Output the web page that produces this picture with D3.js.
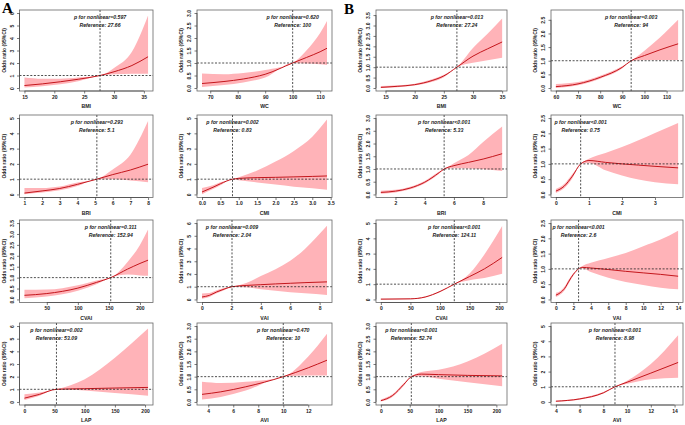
<!DOCTYPE html>
<html><head><meta charset="utf-8">
<script src="https://cdn.jsdelivr.net/npm/d3@7"></script>
<style>body{margin:0;background:#fff}svg{display:block}</style>
</head><body><svg id="c" width="685" height="425"></svg>
<script>
// panel order: A-BMI, A-WC, A-BRI, A-CMI, A-CVAI, A-VAI, A-LAP, A-AVI, then the same for B
const groupLabels = ["A", "B"];
const indexNames = ["BMI","WC","BRI","CMI","CVAI","VAI","LAP","AVI","BMI","WC","BRI","CMI","CVAI","VAI","LAP","AVI"];
const pTexts = ["=0.597","=0.620","=0.293","=0.002","=0.311","=0.009","=0.002","=0.470",
                "=0.013","=0.003","<0.001","<0.001","<0.001","<0.001","<0.001","<0.001"];
const refTexts = ["27.66","100","5.1","0.83","152.94","2.04","53.09","10",
                  "27.24","94","5.33","0.75","124.11","2.6","52.74","8.98"];
const refValues = [27.66,100,5.1,0.83,152.94,2.04,53.09,10, 27.24,94,5.33,0.75,124.11,2.6,52.74,8.98];
const yMax = [6,3,5,5,3.5,6,6,3, 3.6,2.75,3,2.5,5,2.5,3,5];
const xTicks = [[15,20,25,30,35],[70,80,90,100,110],[1,2,3,4,5,6,7,8],[0,0.5,1,1.5,2,2.5,3,3.5],
                [50,100,150,200],[0,2,4,6,8],[0,50,100,150,200],[4,6,8,10,12],
                [15,20,25,30,35],[60,70,80,90,100,110],[2,4,6,8],[0,1,2,3],
                [0,50,100,150,200],[0,2,4,6,8,10,12,14],[0,50,100,150,200],[4,6,8,10,12,14]];
const yTicks = [[0,1,2,3,4,5,6],[0,0.5,1,1.5,2,2.5,3],[0,1,2,3,4,5],[0,1,2,3,4,5],
                [0,0.5,1,1.5,2,2.5,3,3.5],[0,1,2,3,4,5,6],[0,1,2,3,4,5,6],[0,0.5,1,1.5,2,2.5,3],
                [0,0.5,1,1.5,2,2.5,3,3.5],[0,0.5,1,1.5,2,2.5],[0,0.5,1,1.5,2,2.5,3],[0,0.5,1,1.5,2,2.5],
                [0,1,2,3,4,5],[0,0.5,1,1.5,2,2.5],[0,0.5,1,1.5,2,2.5,3],[0,1,2,3,4,5]];
const yTickDecimals = [0,1,0,0,1,0,0,1, 1,1,1,1,0,1,1,0];
const xTickDecimals = [0,0,0,1,0,0,0,0, 0,0,0,0,0,0,0,0];

const curveX = [
 [15,18,21,24,27.66,30,33,35.7],
 [67,75,82,90,100,105,110,112.5],
 [1,2,3,4,5.1,6,7,8],
 [0,0.3,0.5,0.83,1.0,1.5,2.0,2.5,3.0,3.4],
 [14,50,100,130,152.94,180,200,213],
 [0,0.5,1,1.5,2.04,3,4,5,6,7,8.5],
 [0,25,53.09,100,150,205],
 [3.5,5,7,10,12,13.5],
 [14.2,17,20,23,25,27.24,30,32.5,35],
 [60,70,80,90,94,100,107,115.2],
 [1,2,3,4,5,5.33,6,7,8,9.3],
 [0,0.25,0.5,0.75,1.0,1.5,2.0,2.5,3.0,3.7],
 [0,50,75,100,124.11,150,175,205],
 [0,0.5,1,1.5,2,2.6,3,4,6,8,10,12,14],
 [0,20,40,52.74,70,100,150,210],
 [4,6,8,8.98,10,12,14.3]
];
const curveOR = [
 [0.2,0.33,0.5,0.7,1,1.3,1.8,2.5],
 [0.18,0.26,0.36,0.55,1,1.22,1.45,1.59],
 [0.09,0.23,0.39,0.66,1,1.3,1.6,1.98],
 [0.16,0.47,0.7,1,1.05,1.1,1.12,1.15,1.18,1.21],
 [0.19,0.27,0.52,0.78,1,1.39,1.65,1.8],
 [0.19,0.32,0.59,0.81,1,1.1,1.16,1.22,1.27,1.32,1.38],
 [0.3,0.6,1,1.05,1.1,1.15],
 [0.3,0.4,0.6,1,1.35,1.65],
 [0.03,0.08,0.16,0.36,0.58,1,1.53,1.88,2.21],
 [0.05,0.15,0.39,0.76,1,1.19,1.4,1.62],
 [0.08,0.13,0.25,0.48,0.86,1,1.13,1.26,1.39,1.6],
 [0.11,0.27,0.6,1,1.11,1.05,1.0,0.96,0.92,0.87],
 [0.02,0.04,0.16,0.52,1,1.5,2.0,2.75],
 [0.14,0.22,0.36,0.6,0.82,1,1.05,1.03,0.98,0.92,0.87,0.82,0.76],
 [0.05,0.25,0.7,1,1.1,1.08,1.05,1.03],
 [0.05,0.2,0.6,1,1.3,1.9,2.6]
];
const curveLo = [
 [0.05,0.15,0.3,0.55,1,1.1,1.15,1.15],
 [0.04,0.12,0.22,0.42,1,0.98,0.95,0.92],
 [0.02,0.12,0.27,0.55,1,1.0,0.92,0.8],
 [0.02,0.35,0.6,1,0.93,0.79,0.65,0.51,0.4,0.3],
 [0.06,0.14,0.4,0.7,1,1.14,1.1,1.08],
 [0.05,0.2,0.48,0.73,1,0.95,0.81,0.68,0.57,0.49,0.35],
 [0.15,0.5,1,0.9,0.7,0.5],
 [0.1,0.2,0.45,1,1.05,1.05],
 [0.0,0.04,0.12,0.3,0.52,1,1.21,1.33,1.45],
 [0.0,0.1,0.34,0.72,1,1.03,1.03,1.03],
 [0.03,0.08,0.2,0.43,0.82,1,1.03,1.02,0.99,0.92],
 [0.05,0.2,0.53,1,1.03,0.79,0.62,0.49,0.4,0.33],
 [0.0,0.02,0.13,0.48,1,1.26,1.4,1.68],
 [0.08,0.16,0.3,0.54,0.78,1,1.01,0.9,0.71,0.57,0.47,0.38,0.33],
 [0.02,0.2,0.65,1,1.02,0.92,0.78,0.62],
 [0.02,0.15,0.55,1,1.2,1.5,1.6]
];
const curveHi = [
 [0.85,0.75,0.75,0.85,1,1.6,2.9,5.8],
 [0.58,0.55,0.6,0.72,1,1.5,2.2,2.68],
 [0.43,0.42,0.52,0.78,1,1.64,2.6,4.8],
 [0.42,0.6,0.8,1,1.12,1.56,2.15,2.85,3.78,4.9],
 [0.44,0.45,0.65,0.87,1,1.72,2.5,3.2],
 [0.46,0.5,0.72,0.9,1,1.3,1.84,2.38,3.03,3.97,5.78],
 [0.6,0.75,1,1.8,3.5,5.8],
 [0.8,0.75,0.8,1,1.8,2.7],
 [0.1,0.13,0.21,0.42,0.64,1,1.92,2.6,3.34],
 [0.15,0.22,0.45,0.8,1,1.37,1.85,2.5],
 [0.15,0.18,0.3,0.53,0.9,1,1.23,1.55,2.06,2.67],
 [0.18,0.34,0.67,1,1.17,1.36,1.55,1.77,2.01,2.34],
 [0.04,0.06,0.19,0.56,1,1.7,2.95,4.8],
 [0.22,0.28,0.42,0.66,0.86,1,1.09,1.2,1.36,1.52,1.74,1.96,2.25],
 [0.1,0.3,0.75,1,1.18,1.27,1.6,2.3],
 [0.08,0.25,0.65,1,1.4,2.5,4.4]
];

const svg = d3.select("#c");
const colLeft = [19.5, 197, 376, 551], colRight = [153, 332, 507, 683];
const rowTop = [10, 115, 220, 323], rowBottom = [91, 197.5, 302.5, 405];
const fontTick = "Liberation Sans, Arial, sans-serif";

svg.selectAll("text.group").data(groupLabels).join("text")
  .attr("x", (d,i) => i === 0 ? 2 : 344).attr("y", (d,i) => i === 0 ? 13 : 14)
  .attr("font-family", "Liberation Serif, Times New Roman, serif")
  .attr("font-weight", "bold").attr("font-size", 15).text(d => d);

indexNames.forEach((name, i) => {
  const g = i < 8 ? 0 : 1, k = i % 8;
  const row = Math.floor(k / 2), col = g * 2 + (k % 2);
  const L = colLeft[col], R = colRight[col], T = rowTop[row], B = rowBottom[row];
  const xs = curveX[i];
  const xmin = d3.min(xs), xmax = d3.max(xs), xpad = (xmax - xmin) * 0.04;
  const x = d3.scaleLinear().domain([xmin - xpad, xmax + xpad]).range([L, R]);
  const ypad = yMax[i] * 0.04;
  const y = d3.scaleLinear().domain([-ypad, yMax[i] + ypad]).range([B, T]);
  const pts = xs.map((v, j) => ({x: v, or: curveOR[i][j], lo: curveLo[i][j], hi: curveHi[i][j]}));
  const pg = svg.append("g");

  pg.append("path").datum(pts)
    .attr("d", d3.area().x(d => x(d.x)).y0(d => y(d.lo)).y1(d => y(d.hi)).curve(d3.curveMonotoneX))
    .attr("fill", "#ffb3b8").attr("stroke", "none");
  pg.append("path").datum(pts)
    .attr("d", d3.line().x(d => x(d.x)).y(d => y(d.or)).curve(d3.curveMonotoneX))
    .attr("fill", "none").attr("stroke", "#c4161c").attr("stroke-width", 1);

  pg.append("line").attr("x1", L).attr("x2", R).attr("y1", y(1)).attr("y2", y(1))
    .attr("stroke", "#222").attr("stroke-width", 0.8).attr("stroke-dasharray", "2,1.6");
  pg.append("line").attr("x1", x(refValues[i])).attr("x2", x(refValues[i])).attr("y1", T).attr("y2", B)
    .attr("stroke", "#222").attr("stroke-width", 0.8).attr("stroke-dasharray", "2,1.6");

  pg.append("rect").attr("x", L).attr("y", T).attr("width", R - L).attr("height", B - T)
    .attr("fill", "none").attr("stroke", "#666").attr("stroke-width", 0.8);

  // x axis
  const xa = pg.append("g").attr("transform", `translate(0,${B})`)
    .call(d3.axisBottom(x).tickValues(xTicks[i]).tickSize(2.5).tickPadding(1.5)
      .tickFormat(d3.format("." + xTickDecimals[i] + "f")));
  xa.select(".domain").attr("d", `M${x(xTicks[i][0])},0H${x(xTicks[i][xTicks[i].length-1])}`)
    .attr("stroke", "#444").attr("stroke-width", 0.7);
  xa.selectAll(".tick line").attr("stroke", "#444").attr("stroke-width", 0.7);
  xa.selectAll("text").attr("font-family", fontTick).attr("font-size", 5).attr("font-weight", "bold").attr("fill", "#222");

  // y axis
  const ya = pg.append("g").attr("transform", `translate(${L},0)`)
    .call(d3.axisLeft(y).tickValues(yTicks[i]).tickSize(2.5).tickPadding(1.5)
      .tickFormat(d3.format("." + yTickDecimals[i] + "f")));
  ya.select(".domain").attr("d", `M0,${y(yTicks[i][0])}V${y(yTicks[i][yTicks[i].length-1])}`)
    .attr("stroke", "#444").attr("stroke-width", 0.7);
  ya.selectAll(".tick line").attr("stroke", "#444").attr("stroke-width", 0.7);
  ya.selectAll("text").attr("font-family", fontTick).attr("font-size", 5).attr("font-weight", "bold").attr("fill", "#222")
    .attr("text-anchor", "middle").attr("x", 0).attr("dy", 0)
    .attr("transform", "translate(-6,0) rotate(-90)");

  // labels
  pg.append("text").attr("x", (L + R) / 2).attr("y", B + 17)
    .attr("text-anchor", "middle").attr("font-family", fontTick).attr("font-size", 5.2)
    .attr("font-weight", "bold").attr("fill", "#222").text(name);
  pg.append("text").attr("transform", `translate(${L - 14},${(T + B) / 2}) rotate(-90)`)
    .attr("text-anchor", "middle").attr("font-family", fontTick).attr("font-size", 5)
    .attr("font-weight", "bold").attr("fill", "#222").text("Odds ratio (95%CI)");

  const tx = x(refValues[i]);
  pg.append("text").attr("x", tx).attr("y", T + 8.5).attr("text-anchor", "middle")
    .attr("font-family", fontTick).attr("font-size", 5.2).attr("font-style", "italic")
    .attr("font-weight", "bold").attr("fill", "#222").text("p for nonlinear" + pTexts[i]);
  pg.append("text").attr("x", tx).attr("y", T + 16.5).attr("text-anchor", "middle")
    .attr("font-family", fontTick).attr("font-size", 5.2).attr("font-style", "italic")
    .attr("font-weight", "bold").attr("fill", "#222").text("Reference: " + refTexts[i]);
});
</script></body></html>
